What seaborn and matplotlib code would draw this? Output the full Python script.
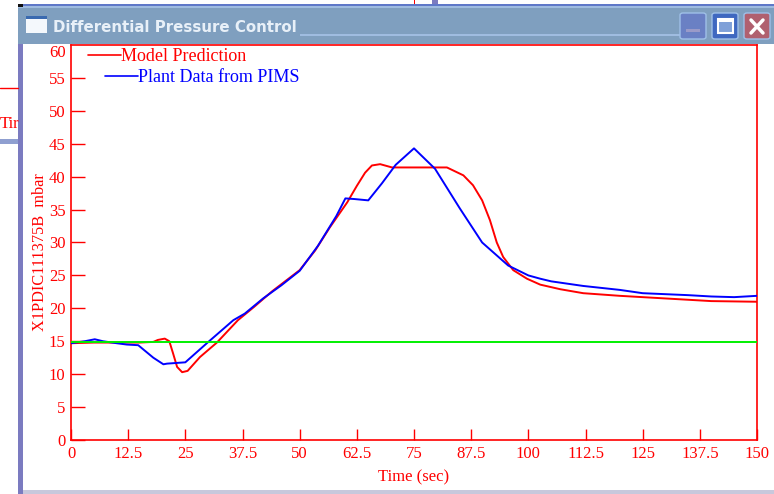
import matplotlib
matplotlib.use('Agg')
import matplotlib.pyplot as plt
from matplotlib.lines import Line2D
from matplotlib.patches import Rectangle, FancyBboxPatch
import pandas as pd
import seaborn as sns

# values
model_time = [0, 5, 10, 15, 18, 19, 20.5, 21.5, 22.3, 23.2, 24.3, 25.5, 28.2, 31.9, 36.5, 40, 44, 50, 53.4, 56.6,
              60.4, 62.5, 64.3, 65.8, 67.6, 70.2, 75, 82.2, 85.8, 87.9, 89.9, 91.6, 93.1, 94.5, 96.7, 99.7,
              102.6, 107, 112, 120, 130, 140, 150]
model_dp = [14.7, 14.8, 14.8, 14.8, 14.9, 15.2, 15.4, 15.0, 13.2, 11.1, 10.3, 10.5, 12.6, 14.8, 18.2, 20.2,
            22.6, 25.8, 28.8, 32.3, 36.1, 38.6, 40.6, 41.7, 41.9, 41.4, 41.4, 41.4, 40.2, 38.7, 36.4, 33.4,
            30.0, 27.8, 25.8, 24.5, 23.6, 22.9, 22.3, 21.9, 21.5, 21.1, 21.0]

plant_time = [0, 3, 5.2, 7, 10, 12.2, 14.7, 18, 20.2, 21, 25, 29.7, 35.5, 38, 42, 46, 50, 54, 58, 60, 62, 65,
              68, 71, 75, 79.6, 85, 89.9, 95.6, 100, 102.6, 105, 112, 120, 125, 135, 140, 145, 150]
plant_dp = [14.7, 15.0, 15.3, 15.0, 14.7, 14.5, 14.4, 12.5, 11.5, 11.6, 11.8, 14.7, 18.2, 19.2,
            21.5, 23.5, 25.7, 29.5, 34.0, 36.7, 36.6, 36.4, 39.0, 41.8, 44.3, 41.2, 35.2, 30.0, 26.5,
            25.0, 24.5, 24.1, 23.4, 22.8, 22.3, 22.0, 21.8, 21.7, 21.9]

setpoint_time = [0, 150]
setpoint_dp = [14.9, 14.9]

x_ticks = [0, 12.5, 25, 37.5, 50, 62.5, 75, 87.5, 100, 112.5, 125, 137.5, 150]
x_labels = ['0', '12.5', '25', '37.5', '50', '62.5', '75', '87.5', '100', '112.5', '125', '137.5', '150']
y_ticks = list(range(0, 65, 5))

W, H = 774, 494
RED = '#ff0000'
BLUE = '#0000ff'
GREEN = '#00f000'

sns.set_theme(style='white')
plt.rcParams['font.family'] = ['Liberation Serif', 'DejaVu Serif']

fig = plt.figure(figsize=(W / 100, H / 100), dpi=100, facecolor='white')


# window frame is drawn in pixels of the screenshot
def box(x, y, w, h, color, z=0):
    fig.add_artist(Rectangle((x / W, 1 - (y + h) / H), w / W, h / H, transform=fig.transFigure,
                             facecolor=color, edgecolor='none', zorder=z))


# other window behind this one
fig.add_artist(Line2D([0, 18 / W], [1 - 88 / H] * 2, color=RED, lw=1))
fig.text(0, 1 - 124 / H, 'Tir', color=RED, fontsize=12, va='center')
box(0, 139, 18, 5, '#8f9fd0')
box(414, 0, 1.5, 4, RED)
box(432, 0, 6, 4, '#7b7bc0')
box(18, 4, 756, 490, '#ffffff')
box(18, 5, 5, 489, '#7b7bc0')
box(18, 4, 756, 2, '#5f78c8')
box(18, 6, 756, 38, '#7f9fbf')
box(18, 6, 756, 2, '#9fbce0')
box(300, 34, 380, 2, '#9fbce0')
box(23, 490, 751, 4, '#c8c8dc')
box(18, 4, 5, 3, '#101010', 1)

# title bar icon and buttons
box(26, 17, 21, 16, '#f4f8fc', 1)
box(26, 16, 21, 3, '#3a6ab0', 1)
fig.text(53 / W, 1 - 27 / H, 'Differential Pressure Control', color='#e8f0f8', fontsize=10.8,
         fontfamily='DejaVu Sans', fontweight='bold', va='center', zorder=2)
for bx, col in [(680, '#6a80c4'), (712, '#3f68c0'), (744, '#b0606f')]:
    fig.add_artist(FancyBboxPatch((bx / W, 1 - 39 / H), 26 / W, 26 / H, transform=fig.transFigure,
                                  boxstyle='round,pad=0,rounding_size=0.004', facecolor=col,
                                  edgecolor='#9fc0e8', lw=1, zorder=1))
box(686, 29, 14, 3, '#9a9ac8', 2)
fig.add_artist(Rectangle((718 / W, 1 - 33 / H), 15 / W, 14 / H, transform=fig.transFigure,
                         facecolor='#7fa0d8', edgecolor='white', lw=1.5, zorder=2))
box(718, 19, 15, 3, 'white', 3)
for xs, ys in [([751, 763], [20, 33]), ([751, 763], [33, 20])]:
    fig.add_artist(Line2D([v / W for v in xs], [1 - v / H for v in ys], color='white', lw=2.5, zorder=2))

ax = fig.add_axes([71 / W, 1 - 440 / H, (757 - 71) / W, (440 - 45) / H])
ax.patch.set_alpha(0)

model = pd.DataFrame({'time': model_time, 'dp': model_dp})
plant = pd.DataFrame({'time': plant_time, 'dp': plant_dp})
setpoint = pd.DataFrame({'time': setpoint_time, 'dp': setpoint_dp})

sns.lineplot(data=model, x='time', y='dp', color=RED, lw=1.4, ax=ax, zorder=2)
sns.lineplot(data=plant, x='time', y='dp', color=BLUE, lw=1.4, ax=ax, zorder=3)
sns.lineplot(data=setpoint, x='time', y='dp', color=GREEN, lw=1.4, ax=ax, zorder=4)

ax.set_xlim(0, 150)
ax.set_ylim(0, 59.9)
ax.set_xticks(x_ticks)
ax.set_xticklabels(x_labels)
ax.set_yticks(y_ticks)
ax.tick_params(axis='both', direction='in', length=8, width=1, color=RED, labelcolor=RED,
               labelsize=12, left=True, bottom=True)
ax.tick_params(axis='x', pad=4)
ax.tick_params(axis='y', pad=4, length=10)
for spine in ax.spines.values():
    spine.set_visible(True)
    spine.set_color(RED)
    spine.set_linewidth(1.2)

# the 60 label sits below the frame corner and has no tick
ax.yaxis.get_major_ticks()[-1].tick1line.set_visible(False)
top_label = ax.get_yticklabels()[-1]
top_label.set_verticalalignment('top')

ax.set_xlabel('Time (sec)', color=RED, fontsize=12, labelpad=6)
ax.set_ylabel('X1PDIC111375B  mbar', color=RED, fontsize=11.7, labelpad=0)
ax.yaxis.set_label_coords(-0.034, 0.475)

# hand drawn key at the top of the plot
for x0, x1, y, col, label in [(88, 121, 55, RED, 'Model Prediction'),
                              (105, 138, 76, BLUE, 'Plant Data from PIMS')]:
    fig.add_artist(Line2D([x0 / W, x1 / W], [1 - y / H] * 2, color=col, lw=1.2, zorder=5))
    fig.text(x1 / W, 1 - (y + 1.5) / H, label, color=col, fontsize=13, va='center', zorder=5)

fig.savefig('out.png', dpi=100)
